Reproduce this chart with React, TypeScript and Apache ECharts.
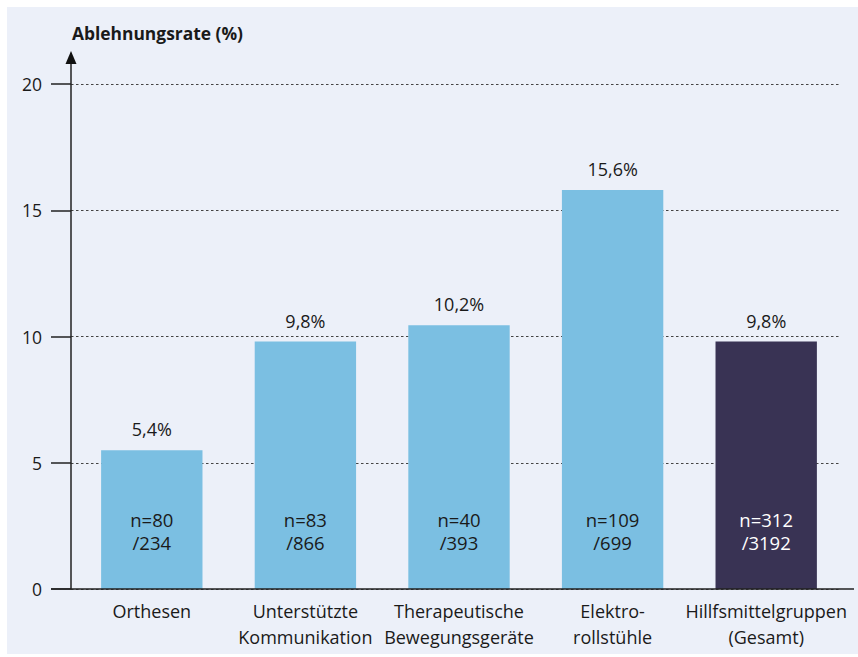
import React, { useEffect, useRef } from "react";
import * as echarts from "echarts";

const categories = [
  "Orthesen",
  "Unterstützte\nKommunikation",
  "Therapeutische\nBewegungsgeräte",
  "Elektro-\nrollstühle",
  "Hillfsmittelgruppen\n(Gesamt)",
];
// bar heights as drawn in the picture
const barHeights = [5.5, 9.8, 10.45, 15.8, 9.8];
// printed rate labels
const rateLabels = ["5,4%", "9,8%", "10,2%", "15,6%", "9,8%"];
const counts = ["n=80\n/234", "n=83\n/866", "n=40\n/393", "n=109\n/699", "n=312\n/3192"];
const yTicks = [0, 5, 10, 15, 20];
const yTitle = "Ablehnungsrate (%)";

const FONT = "'Open Sans', 'Noto Sans', sans-serif";
const LIGHT = "#7bbfe2";
const DARK = "#393354";
const TEXT = "#1a1a1a";

export default function App() {
  const ref = useRef<HTMLDivElement>(null);
  useEffect(() => {
    if (!ref.current) return;
    const chart = echarts.init(ref.current, undefined, { renderer: "svg" });
    const last = barHeights.length - 1;
    chart.setOption({
      animation: false,
      backgroundColor: "#ffffff",
      textStyle: { fontFamily: FONT },
      graphic: [
        {
          type: "rect",
          z: -10,
          shape: { x: 7, y: 7, width: 851, height: 647 },
          style: { fill: "#ecf0f9" },
        },
        {
          type: "line",
          z: 10,
          shape: { x1: 71, y1: 589, x2: 71, y2: 60 },
          style: { stroke: "#222", lineWidth: 1.5 },
        },
        {
          type: "polygon",
          z: 10,
          shape: { points: [[65.5, 64], [76.5, 64], [71, 51]] },
          style: { fill: "#111" },
        },
        {
          type: "line",
          z: 10,
          shape: { x1: 51, y1: 589, x2: 854, y2: 589 },
          style: { stroke: "#222", lineWidth: 1.5 },
        },
        {
          type: "text",
          x: 72,
          y: 33,
          style: {
            text: yTitle,
            font: `bold 17.4px ${FONT}`,
            fill: TEXT,
            textVerticalAlign: "middle",
          },
        },
      ],
      grid: [
        { left: 71, right: 19.5, top: 84, bottom: 68, containLabel: false },
        { left: 75, right: 15, top: 84, bottom: 68, containLabel: false },
      ],
      xAxis: [
        {
          type: "category",
          gridIndex: 0,
          data: categories,
          show: false,
        },
        {
          type: "category",
          gridIndex: 1,
          data: categories,
          axisLine: { show: false },
          axisTick: { show: false },
          axisLabel: {
            color: TEXT,
            fontSize: 18,
            lineHeight: 26,
            margin: 9,
            fontFamily: FONT,
            interval: 0,
          },
        },
      ],
      yAxis: [
        {
          type: "value",
          gridIndex: 0,
          min: 0,
          max: 20,
          interval: 5,
          axisLine: { show: false },
          axisTick: { show: true, inside: false, length: 20, lineStyle: { color: "#222", width: 1.5 } },
          axisLabel: {
            color: TEXT,
            fontSize: 17.5,
            margin: 29,
            fontFamily: FONT,
            formatter: (v: number) => (yTicks.includes(v) ? String(v) : ""),
          },
          splitLine: {
            show: true,
            lineStyle: { color: "#444", type: [2.5, 2.5], width: 1.2 },
          },
        },
        {
          type: "value",
          gridIndex: 1,
          min: 0,
          max: 20,
          interval: 5,
          show: false,
          splitLine: { show: false },
        },
      ],
      series: [
        {
          type: "bar",
          xAxisIndex: 1,
          yAxisIndex: 1,
          barWidth: "66%",
          data: barHeights.map((v, i) => ({
            value: v,
            itemStyle: { color: i === last ? DARK : LIGHT },
          })),
          label: {
            show: true,
            position: "top",
            distance: 12,
            color: TEXT,
            fontSize: 18,
            fontFamily: FONT,
            formatter: (p: any) => rateLabels[p.dataIndex],
          },
          z: 2,
        },
        {
          type: "bar",
          xAxisIndex: 1,
          yAxisIndex: 1,
          barWidth: "66%",
          barGap: "-100%",
          silent: true,
          data: barHeights.map((v, i) => ({
            value: v,
            itemStyle: { color: "rgba(0,0,0,0)" },
            label: { color: i === last ? "#ffffff" : TEXT },
          })),
          label: {
            show: true,
            position: "insideBottom",
            distance: 35,
            fontSize: 18.5,
            lineHeight: 23,
            fontFamily: FONT,
            formatter: (p: any) => counts[p.dataIndex],
          },
          z: 3,
        },
      ],
    });
    return () => chart.dispose();
  }, []);
  return (
    <div
      ref={ref}
      style={{ position: "absolute", left: 0, top: 0, width: 858, height: 657 }}
    />
  );
}
